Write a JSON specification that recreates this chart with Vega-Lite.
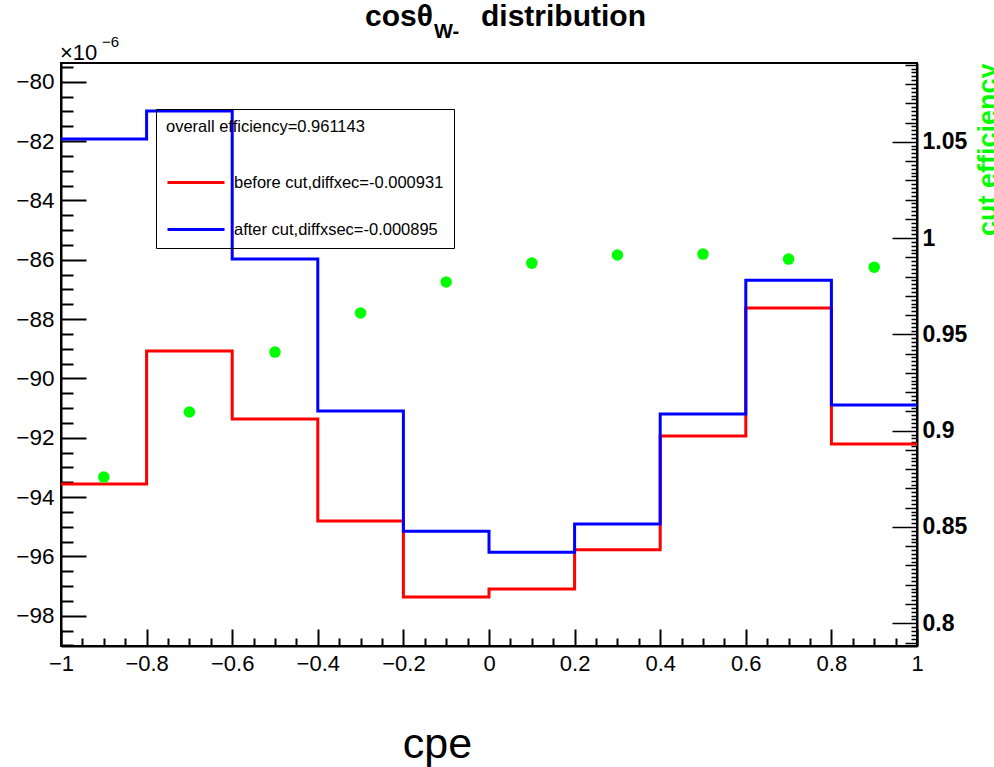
{
  "$schema": "https://vega.github.io/schema/vega-lite/v6.json",
  "width": 856,
  "height": 583,
  "autosize": {"type": "none"},
  "padding": {"left": 61, "top": 63, "right": 77, "bottom": 121},
  "background": "white",
  "config": {
    "font": "Liberation Sans",
    "view": {"stroke": "black", "strokeWidth": 2},
    "axis": {
      "grid": false,
      "domainColor": "black",
      "domainWidth": 2,
      "tickColor": "black",
      "tickWidth": 2,
      "labelColor": "black",
      "titleColor": "black",
      "labelFont": "Liberation Sans",
      "titleFont": "Liberation Sans",
      "labelOverlap": false,
      "labelFlush": false
    }
  },
  "data": {
    "values": [
      {"i": 1, "x0": -1.0, "x1": -0.8, "c": -0.9, "before": -93.56, "after": -81.93, "eff": 0.8759},
      {"i": 2, "x0": -0.8, "x1": -0.6, "c": -0.7, "before": -89.08, "after": -80.99, "eff": 0.9097},
      {"i": 3, "x0": -0.6, "x1": -0.4, "c": -0.5, "before": -91.37, "after": -85.98, "eff": 0.9408},
      {"i": 4, "x0": -0.4, "x1": -0.2, "c": -0.3, "before": -94.81, "after": -91.10, "eff": 0.9611},
      {"i": 5, "x0": -0.2, "x1": 0.0, "c": -0.1, "before": -97.37, "after": -95.15, "eff": 0.9772},
      {"i": 6, "x0": 0.0, "x1": 0.2, "c": 0.1, "before": -97.10, "after": -95.86, "eff": 0.9870},
      {"i": 7, "x0": 0.2, "x1": 0.4, "c": 0.3, "before": -95.78, "after": -94.91, "eff": 0.9912},
      {"i": 8, "x0": 0.4, "x1": 0.6, "c": 0.5, "before": -91.94, "after": -91.20, "eff": 0.9917},
      {"i": 9, "x0": 0.6, "x1": 0.8, "c": 0.7, "before": -87.63, "after": -86.69, "eff": 0.9891},
      {"i": 10, "x0": 0.8, "x1": 1.0, "c": 0.9, "before": -92.21, "after": -90.90, "eff": 0.9849}
    ]
  },
  "layer": [
    {
      "layer": [
        {
          "transform": [
            {"fold": ["before", "after"], "as": ["series", "value"]},
            {"fold": ["x0", "x1"], "as": ["edge", "xv"]}
          ],
          "mark": {"type": "line", "strokeWidth": 3},
          "encoding": {
            "x": {
              "field": "xv", "type": "quantitative",
              "scale": {"domain": [-1, 1], "nice": false, "zero": false},
              "axis": {
                "orient": "bottom",
                "tickCount": 40,
                "tickSize": {"condition": [{"test": "abs(datum.value*5 - round(datum.value*5)) < 1e-6", "value": -17}], "value": -8},
                "labelExpr": "abs(datum.value*5 - round(datum.value*5)) < 1e-6 ? format(datum.value, '~g') : ''",
                "labelFontSize": 22,
                "labelPadding": 24,
                "title": "cpe",
                "titleFontSize": 43,
                "titleFontWeight": "normal",
                "titleX": 376,
                "titleY": 111,
                "titleAlign": "center",
                "titleBaseline": "alphabetic"
              }
            },
            "y": {
              "field": "value", "type": "quantitative",
              "scale": {"domain": [-99.02, -79.37], "nice": false, "zero": false},
              "axis": {
                "orient": "left",
                "tickCount": 40,
                "tickSize": {"condition": [{"test": "abs(datum.value/2 - round(datum.value/2)) < 1e-6", "value": -25}], "value": -12},
                "labelExpr": "abs(datum.value/2 - round(datum.value/2)) < 1e-6 ? format(datum.value, '~g') : ''",
                "labelFontSize": 22.5,
                "labelPadding": 32,
                "title": null
              }
            },
            "color": {
              "field": "series", "type": "nominal",
              "scale": {"domain": ["before", "after"], "range": ["#ff0000", "#0000ff"]},
              "legend": {
                "orient": "none",
                "legendX": 95,
                "legendY": 46,
                "title": "overall efficiency=0.961143",
                "titleFontSize": 16.5,
                "titleFontWeight": "normal",
                "titleColor": "black",
                "titleFont": "Liberation Sans",
                "titleLimit": 600,
                "titlePadding": 17,
                "labelFontSize": 16.5,
                "labelColor": "black",
                "labelFont": "Liberation Sans",
                "labelOffset": 8,
                "labelLimit": 600,
                "symbolType": "stroke",
                "symbolSize": 3249,
                "symbolStrokeWidth": 3,
                "rowPadding": 8,
                "padding": 10,
                "strokeColor": "black",
                "labelExpr": "datum.label == 'before' ? 'before cut,diffxec=-0.000931' : 'after cut,diffxsec=-0.000895'"
              }
            },
            "order": [
              {"field": "i", "type": "quantitative"},
              {"field": "edge", "type": "ordinal"}
            ]
          }
        },
        {
          "data": {"values": [{"t": "cosθ"}]},
          "mark": {"type": "text", "align": "right", "baseline": "alphabetic", "fontSize": 30, "fontWeight": "bold", "color": "black"},
          "encoding": {
            "x": {"datum": -0.1308, "type": "quantitative", "scale": {"domain": [-1, 1], "nice": false, "zero": false}},
            "y": {"datum": -78.12, "type": "quantitative", "scale": {"domain": [-99.02, -79.37], "nice": false, "zero": false}},
            "text": {"field": "t"}
          }
        },
        {
          "data": {"values": [{"t": "W-"}]},
          "mark": {"type": "text", "align": "left", "baseline": "alphabetic", "fontSize": 20, "fontWeight": "bold", "color": "black"},
          "encoding": {
            "x": {"datum": -0.1285, "type": "quantitative", "scale": {"domain": [-1, 1], "nice": false, "zero": false}},
            "y": {"datum": -78.53, "type": "quantitative", "scale": {"domain": [-99.02, -79.37], "nice": false, "zero": false}},
            "text": {"field": "t"}
          }
        },
        {
          "data": {"values": [{"t": "distribution"}]},
          "mark": {"type": "text", "align": "left", "baseline": "alphabetic", "fontSize": 30, "fontWeight": "bold", "color": "black"},
          "encoding": {
            "x": {"datum": -0.0187, "type": "quantitative", "scale": {"domain": [-1, 1], "nice": false, "zero": false}},
            "y": {"datum": -78.12, "type": "quantitative", "scale": {"domain": [-99.02, -79.37], "nice": false, "zero": false}},
            "text": {"field": "t"}
          }
        },
        {
          "data": {"values": [{"t": "×10"}]},
          "mark": {"type": "text", "align": "left", "baseline": "alphabetic", "fontSize": 22, "color": "black"},
          "encoding": {
            "x": {"datum": -1.0023, "type": "quantitative", "scale": {"domain": [-1, 1], "nice": false, "zero": false}},
            "y": {"datum": -79.27, "type": "quantitative", "scale": {"domain": [-99.02, -79.37], "nice": false, "zero": false}},
            "text": {"field": "t"}
          }
        },
        {
          "data": {"values": [{"t": "−6"}]},
          "mark": {"type": "text", "align": "left", "baseline": "alphabetic", "fontSize": 15, "color": "black"},
          "encoding": {
            "x": {"datum": -0.904, "type": "quantitative", "scale": {"domain": [-1, 1], "nice": false, "zero": false}},
            "y": {"datum": -78.83, "type": "quantitative", "scale": {"domain": [-99.02, -79.37], "nice": false, "zero": false}},
            "text": {"field": "t"}
          }
        }
      ]
    },
    {
      "mark": {"type": "circle", "size": 133, "opacity": 1, "color": "#00ff00"},
      "encoding": {
        "x": {"field": "c", "type": "quantitative", "scale": {"domain": [-1, 1], "nice": false, "zero": false}},
        "y": {
          "field": "eff", "type": "quantitative",
          "scale": {"domain": [0.7882, 1.0909], "nice": false, "zero": false},
          "axis": {
            "orient": "right",
            "tickCount": 150,
            "tickWidth": 1.5,
            "tickSize": {"condition": [
              {"test": "abs(datum.value*20 - round(datum.value*20)) < 1e-6", "value": -25},
              {"test": "abs(datum.value*100 - round(datum.value*100)) < 1e-6", "value": -12}
            ], "value": -6},
            "labelExpr": "abs(datum.value*20 - round(datum.value*20)) < 1e-6 ? format(datum.value, '~g') : ''",
            "labelFontSize": 23,
            "labelFontWeight": "bold",
            "labelPadding": 30,
            "title": "cut efficiency",
            "titleColor": "#00ff00",
            "titleFontSize": 27,
            "titleFontWeight": "bold",
            "titleAngle": 270,
            "titleAlign": "right",
            "titleBaseline": "alphabetic",
            "titleX": 79,
            "titleY": 0
          }
        }
      }
    }
  ],
  "resolve": {"scale": {"y": "independent"}}
}
